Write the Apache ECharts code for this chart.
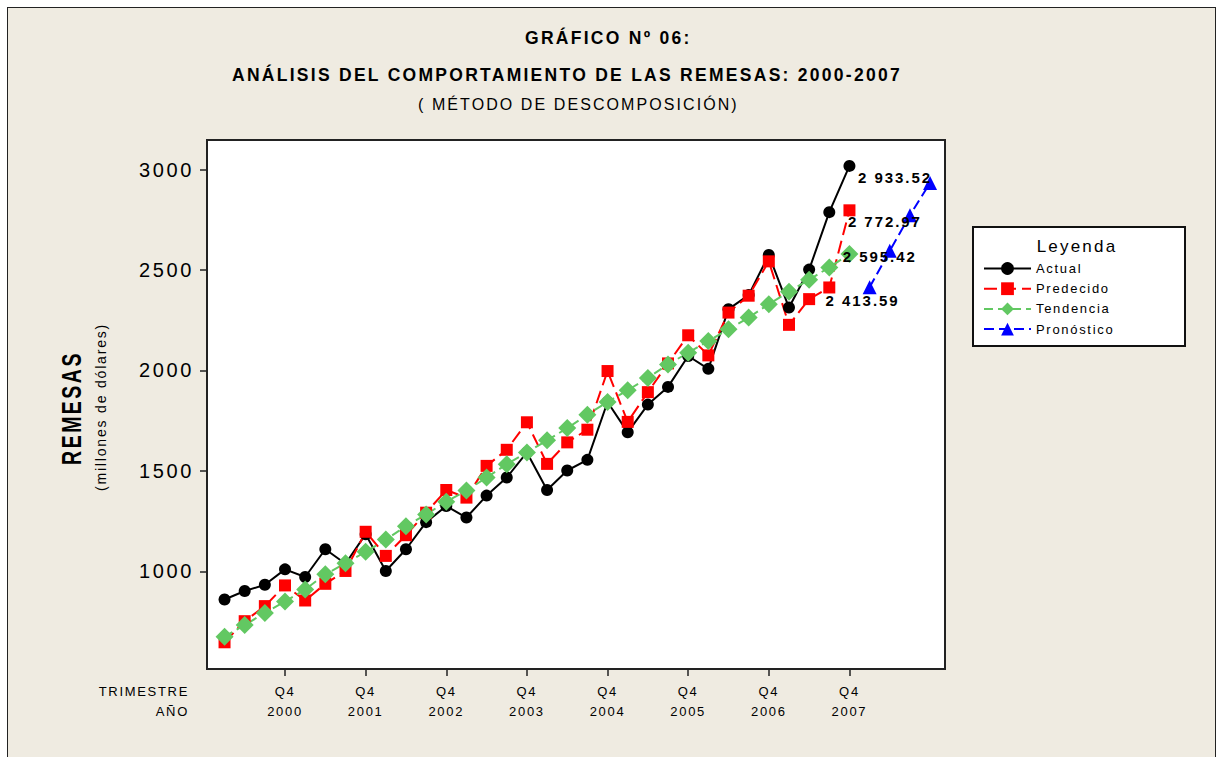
<!DOCTYPE html>
<html>
<head>
    <meta charset="utf-8"/>
    <title>Remesas 2000-2007</title>
    <script src="https://cdn.jsdelivr.net/npm/echarts@6/dist/echarts.min.js"></script>
    <style>
        html, body {
            margin: 0;
            padding: 0;
            background: #fff;
            overflow: hidden;
        }
        #frame {
            position: absolute;
            left: 7px;
            top: 7px;
            width: 1207px;
            height: 760px;
            background: #EFEBE1;
            border: 1px solid #222;
        }
        #chart {
            position: absolute;
            left: 0;
            top: 0;
            width: 1222px;
            height: 757px;
        }
        /* minitab style spaced lettering */
        #chart text {
            letter-spacing: 0.13em;
        }
    </style>
</head>
<body>
<div id="frame"></div>
<div id="chart"></div>

<script type="text/javascript">
    // trimestres 2000 Q1 .. 2007 Q4, luego 4 trimestres de pronostico
    let actual = [860, 902, 933, 1010, 972, 1110, 1038, 1185, 1002, 1110, 1245, 1325,
        1268, 1377, 1467, 1592, 1405, 1502, 1555, 1843, 1692, 1830, 1918, 2072,
        2008, 2305, 2375, 2575, 2313, 2502, 2788, 3018];
    let predecido = [647, 752, 827, 930, 855, 938, 1002, 1197, 1077, 1180, 1292, 1405,
        1367, 1525, 1605, 1742, 1535, 1642, 1705, 1997, 1744, 1892, 2035, 2175,
        2075, 2288, 2372, 2543, 2227, 2355, 2413, 2797];
    let tendencia = [675, 733, 793, 850, 910, 985, 1040, 1097, 1158, 1225, 1283, 1347,
        1402, 1467, 1533, 1592, 1652, 1713, 1780, 1843, 1902, 1963, 2030, 2088,
        2147, 2205, 2263, 2330, 2392, 2452, 2513, 2580];
    let pronostico = [2413.59, 2595.42, 2772.97, 2933.52];

    let xTickIdx = [3, 7, 11, 15, 19, 23, 27, 31];
    let xTickQuarter = ['Q4', 'Q4', 'Q4', 'Q4', 'Q4', 'Q4', 'Q4', 'Q4'];
    let xTickYear = ['2000', '2001', '2002', '2003', '2004', '2005', '2006', '2007'];
    let yTicks = [1000, 1500, 2000, 2500, 3000];

    // desplazamiento de las etiquetas del pronostico (px)
    let labelOffsets = [[-7, 13], [-10, 6], [-25, 6], [-35, -5]];

    let font = 'Liberation Sans, Arial, sans-serif';

    let toPairs = function (arr, start) {
        return arr.map(function (v, i) { return [start + i, v]; });
    };
    let fmt = function (v) {
        return v.toFixed(2).replace(/\B(?=(\d{3})+(?!\d))/, ' ');
    };

    let forecastData = pronostico.map(function (v, i) {
        return {
            value: [actual.length + i, v],
            label: {
                show: true,
                position: 'inside',
                offset: labelOffsets[i],
                formatter: fmt(v),
                color: '#000',
                fontSize: 15,
                fontWeight: 'bold',
                fontFamily: font,
                textBorderWidth: 0
            }
        };
    });

    let chart = echarts.init(document.getElementById('chart'), null, {renderer: 'svg'});
    chart.setOption({
        animation: false,
        backgroundColor: 'transparent',
        textStyle: {fontFamily: font, color: '#000'},
        title: [
            {
                text: 'GRÁFICO Nº 06:',
                left: 525, top: 29, padding: 0,
                textStyle: {fontSize: 17.5, fontWeight: 'bold', color: '#000', fontFamily: font}
            },
            {
                text: 'ANÁLISIS DEL COMPORTAMIENTO DE LAS REMESAS: 2000-2007',
                left: 232, top: 66, padding: 0,
                textStyle: {fontSize: 17.5, fontWeight: 'bold', color: '#000', fontFamily: font}
            },
            {
                text: '( MÉTODO DE DESCOMPOSICIÓN)',
                left: 418, top: 96, padding: 0,
                textStyle: {fontSize: 16, fontWeight: 'normal', color: '#000', fontFamily: font}
            }
        ],
        grid: {
            left: 207, right: 277, top: 140, bottom: 88,
            show: true,
            backgroundColor: '#fff',
            borderColor: '#222',
            borderWidth: 2
        },
        legend: {
            left: 983, top: 262,
            orient: 'vertical',
            padding: 0,
            itemWidth: 47,
            itemHeight: 16,
            itemGap: 7.2,
            textStyle: {fontSize: 13, color: '#000', fontFamily: font},
            data: ['Actual', 'Predecido', 'Tendencia', 'Pronóstico']
        },
        xAxis: {
            type: 'value',
            min: -0.87,
            max: 35.74,
            splitLine: {show: false},
            axisLine: {show: true, onZero: false, lineStyle: {color: '#222', width: 2}},
            axisTick: {show: true, customValues: xTickIdx, length: 7, lineStyle: {color: '#222', width: 1.5}},
            axisLabel: {
                customValues: xTickIdx,
                margin: 12,
                fontSize: 13,
                lineHeight: 20,
                color: '#000',
                formatter: function (v) {
                    let k = xTickIdx.indexOf(Math.round(v));
                    return k < 0 ? '' : xTickQuarter[k] + '\n' + xTickYear[k];
                }
            }
        },
        yAxis: {
            type: 'value',
            min: 514,
            max: 3147,
            splitLine: {show: false},
            axisLine: {show: true, onZero: false, lineStyle: {color: '#222', width: 2}},
            axisTick: {show: true, customValues: yTicks, length: 7, lineStyle: {color: '#222', width: 1.5}},
            axisLabel: {
                customValues: yTicks, margin: 13, fontSize: 20, color: '#000',
                formatter: function (v) { return String(v); }
            }
        },
        graphic: [
            {
                type: 'rect',
                shape: {x: 973, y: 227, width: 212, height: 119},
                style: {fill: '#fff', stroke: '#111', lineWidth: 2},
                z: 0
            },
            {
                type: 'text', x: 1077, y: 246, z: 1,
                style: {text: 'Leyenda', font: '17px ' + font, fill: '#000', align: 'center', verticalAlign: 'middle'}
            },
            {
                type: 'text', x: 72, y: 408, rotation: Math.PI / 2, scaleX: 0.72, z: 1,
                style: {text: 'REMESAS', font: 'bold 27px ' + font, fill: '#000', align: 'center', verticalAlign: 'middle'}
            },
            {
                type: 'text', x: 101, y: 407, rotation: Math.PI / 2, z: 1,
                style: {text: '(millones de dólares)', font: '14px ' + font, fill: '#000', align: 'center', verticalAlign: 'middle'}
            },
            {
                type: 'text', x: 189, y: 691, z: 1,
                style: {text: 'TRIMESTRE', font: '13px ' + font, fill: '#000', align: 'right', verticalAlign: 'middle'}
            },
            {
                type: 'text', x: 189, y: 711, z: 1,
                style: {text: 'AÑO', font: '13px ' + font, fill: '#000', align: 'right', verticalAlign: 'middle'}
            }
        ],
        series: [
            {
                name: 'Actual',
                type: 'line',
                data: toPairs(actual, 0),
                symbol: 'circle',
                symbolSize: 12,
                itemStyle: {color: '#000'},
                lineStyle: {color: '#000', width: 2}
            },
            {
                name: 'Predecido',
                type: 'line',
                data: toPairs(predecido, 0),
                symbol: 'rect',
                symbolSize: 12,
                itemStyle: {color: '#ff0000'},
                lineStyle: {color: '#ff0000', width: 2, type: [13, 6]}
            },
            {
                name: 'Tendencia',
                type: 'line',
                data: toPairs(tendencia, 0),
                symbol: 'diamond',
                symbolSize: 18,
                itemStyle: {color: '#62C862'},
                lineStyle: {color: '#62C862', width: 2, type: [9, 5]}
            },
            {
                name: 'Pronóstico',
                type: 'line',
                data: forecastData,
                symbol: 'triangle',
                symbolSize: 14,
                itemStyle: {color: '#0000ff'},
                lineStyle: {color: '#0000ff', width: 2, type: [10, 5]}
            }
        ]
    });
</script>
</body>
</html>
